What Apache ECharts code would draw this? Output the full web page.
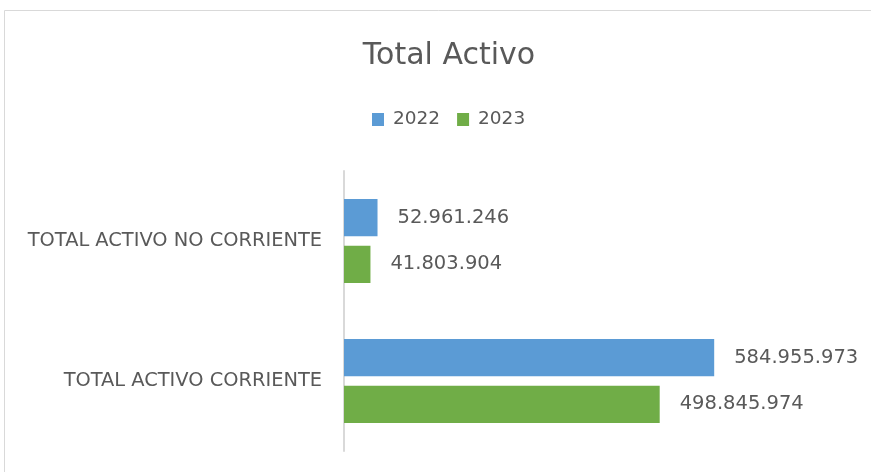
<!DOCTYPE html>
<html lang="es">
<head>
    <meta charset="utf-8">
    <title>Total Activo</title>
    <script src="https://cdn.jsdelivr.net/npm/echarts@6/dist/echarts.min.js"></script>
    <style>
        html, body { margin: 0; padding: 0; background: #fff; }
        #main { width: 871px; height: 472px; }
    </style>
</head>
<body>
<div id="main"></div>
<script>
    // datos
    var categorias = ['TOTAL ACTIVO NO CORRIENTE', 'TOTAL ACTIVO CORRIENTE'];
    var anios = ['2022', '2023'];
    var valores2022 = [52961246, 584955973];
    var valores2023 = [41803904, 498845974];
    var colores = ['#5b9bd5', '#70ad47'];

    function miles(v) {
        return String(v).replace(/\B(?=(\d{3})+(?!\d))/g, '.');
    }

    var fuente = 'DejaVu Sans';
    var chart = echarts.init(document.getElementById('main'));

    var etiqueta = {
        show: true,
        position: 'right',
        distance: 20,
        color: '#595959',
        fontSize: 19.5,
        fontFamily: fuente,
        formatter: function (p) { return miles(p.value); }
    };

    var option = {
        animation: false,
        color: colores,
        graphic: [{
            type: 'rect',
            silent: true,
            shape: { x: 4.5, y: 10.5, width: 900, height: 500 },
            style: { fill: 'none', stroke: '#d9d9d9', lineWidth: 1 }
        }],
        title: {
            text: 'Total Activo',
            left: 444,
            textAlign: 'center',
            top: 36,
            textStyle: { fontFamily: fuente, fontSize: 30, fontWeight: 'normal', color: '#595959' }
        },
        legend: {
            data: anios,
            top: 110,
            left: 372,
            padding: 0,
            itemWidth: 12,
            itemHeight: 13,
            itemGap: 17,
            icon: 'rect',
            textStyle: { fontFamily: fuente, fontSize: 18.5, color: '#595959', padding: [0, 0, 0, 4] }
        },
        grid: { left: 344, right: 84, top: 171, bottom: 21, containLabel: false },
        xAxis: {
            type: 'value',
            min: 0,
            max: 700000000,
            show: false,
            splitLine: { show: false }
        },
        yAxis: {
            type: 'category',
            data: categorias,
            inverse: true,
            axisLine: { lineStyle: { color: '#d9d9d9', width: 2 } },
            axisTick: { show: false },
            axisLabel: { color: '#595959', fontSize: 19.4, fontFamily: fuente, margin: 22 }
        },
        series: [
            {
                name: anios[0],
                type: 'bar',
                data: valores2022,
                barGap: '25%',
                barCategoryGap: '40%',
                label: etiqueta
            },
            {
                name: anios[1],
                type: 'bar',
                data: valores2023,
                label: etiqueta
            }
        ]
    };
    chart.setOption(option);
</script>
</body>
</html>
